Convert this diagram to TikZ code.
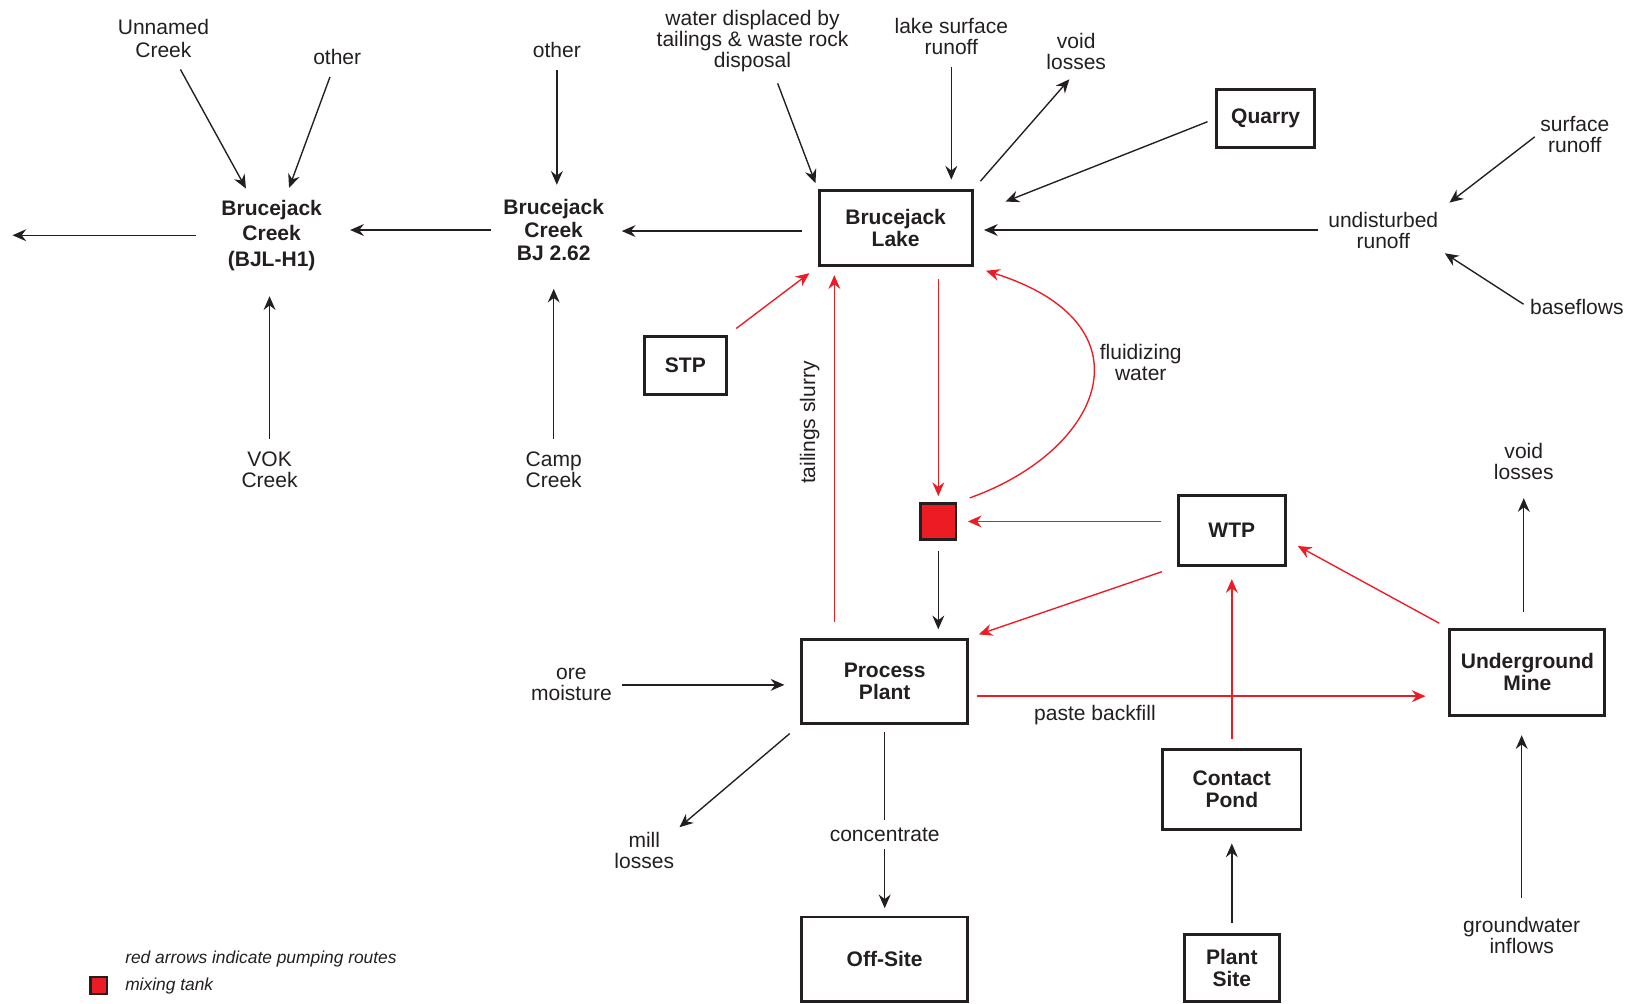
\documentclass[tikz,border=0pt]{standalone}
\usepackage{fontspec}
\setmainfont{Liberation Sans}
\usetikzlibrary{arrows.meta,positioning,calc}
\definecolor{pumpred}{HTML}{ED1C24}
\definecolor{inkgray}{HTML}{231F20}

\begin{document}
\begin{tikzpicture}[x=0.02cm,y=-0.02cm,
  font=\fontsize{11.5}{11.5}\selectfont,
  >={Stealth[length=7.5pt,width=6.5pt,inset=2.5pt]},
  lbl/.style={align=center,inner sep=1pt,text=inkgray},
  creek/.style={lbl,font=\fontsize{11.5}{12.5}\selectfont\bfseries},
  box/.style={draw=inkgray,line width=1.6pt,align=center,inner sep=0pt,text=inkgray,
    font=\fontsize{11.5}{12}\selectfont\bfseries},
  flow/.style={->,inkgray,line width=0.75pt,shorten <=0.2cm,shorten >=0.2cm},
  pump/.style={->,pumpred,line width=0.75pt,shorten <=0.2cm,shorten >=0.2cm},
  legend/.style={anchor=west,inner sep=0pt,text=inkgray,font=\fontsize{9.5}{11}\selectfont\itshape}]

\useasboundingbox (0,0) rectangle (1568,964);

% creeks
\node[creek,font=\fontsize{11.5}{14}\selectfont\bfseries] (bjlh1) at (261,226) {Brucejack\\Creek\\(BJL-H1)};
\node[creek] (bj262) at (532,221) {Brucejack\\Creek\\BJ 2.62};
\node[lbl,font=\fontsize{11.5}{13}\selectfont] (unnamed) at (157,37) {Unnamed\\Creek};
\node[lbl] (otherA) at (324,55) {other};
\node[lbl] (vok) at (259,451) {VOK\\Creek};
\node[lbl] (otherB) at (535,48) {other};
\node[lbl] (camp) at (532,451) {Camp\\Creek};
\coordinate (exit) at (12,226);

% boxes
\node[box,minimum width=2.94cm,minimum height=1.44cm] (lake) at (860.5,219) {Brucejack\\Lake};
\node[box,minimum width=1.88cm,minimum height=1.12cm] (quarry) at (1216,114) {Quarry};
\node[box,minimum width=1.58cm,minimum height=1.12cm] (stp) at (658.5,351) {STP};
\node[box,minimum width=2.06cm,minimum height=1.34cm] (wtp) at (1183.5,509.5) {WTP};
\node[box,minimum width=3.2cm,minimum height=1.62cm] (plant) at (850,654.5) {Process\\Plant};
\node[box,minimum width=2.98cm,minimum height=1.64cm] (mine) at (1467.5,646) {Underground\\Mine};
\node[box,minimum width=2.66cm,minimum height=1.54cm] (pond) at (1183.5,758.5) {Contact\\Pond};
\node[box,minimum width=3.2cm,minimum height=1.62cm] (offsite) at (850,921.5) {Off-Site};
\node[box,minimum width=1.82cm,minimum height=1.28cm] (psite) at (1183.5,930) {Plant\\Site};
\node[box,fill=pumpred,minimum size=0.68cm] (tank) at (901.5,501) {};

% other labels
\node[lbl] (waterdisp) at (723,39) {water displaced by\\tailings \& waste rock\\disposal};
\node[lbl] (lakesurf) at (914,35) {lake surface\\runoff};
\node[lbl] (voidA) at (1034,49) {void\\losses};
\node[lbl] (undist) at (1329,221) {undisturbed\\runoff};
\node[lbl] (surfrun) at (1513,129) {surface\\runoff};
\node[lbl] (baseflows) at (1515,295) {baseflows};
\node[lbl] (fluid) at (1096,348) {fluidizing\\water};
\node[lbl] (ore) at (549,658) {ore\\moisture};
\node[lbl] (mill) at (619,817) {mill\\losses};
\node[lbl] (voidB) at (1464,443) {void\\losses};
\node[lbl] (gw) at (1462,899) {groundwater\\inflows};
\node[lbl] (paste) at (1052,687) {paste backfill};
\node[lbl,rotate=90] (slurry) at (778,406) {tailings slurry};

% creek flows
\draw[flow] (unnamed) -- (bjlh1);
\draw[flow] (otherA) -- (bjlh1);
\draw[flow,shorten <=0.45cm,shorten >=0pt] (bjlh1) -- (exit);
\draw[flow,shorten >=0.5cm] (bj262.west) -- (bj262.west -| bjlh1.east);
\draw[flow,shorten >=0.45cm] (vok) -- (vok |- bjlh1.south);
\draw[flow,shorten >=0.24cm] (otherB) -- (otherB |- bj262.north);
\draw[flow,shorten >=0.5cm] (camp) -- (camp |- bj262.south);
\draw[flow,shorten <=0.3cm,shorten >=0.3cm] ([yshift=-0.06cm]lake.west) -- ([yshift=-0.06cm]lake.west -| bj262.east);

% lake flows
\draw[flow,shorten >=0.12cm] (waterdisp.-57) -- (lake.north west);
\draw[flow,shorten >=0.18cm] (lakesurf) -- (lakesurf |- lake.north);
\draw[flow] (lake.north east) -- (voidA.south);
\draw[flow,shorten <=0.16cm,shorten >=0.66cm] (quarry.west) -- (lake.10);
\draw[flow,shorten <=0.16cm] (undist.west) -- (undist.west -| lake.east);
\draw[flow,shorten <=0.08cm,shorten >=0.22cm] (surfrun.west) -- (undist.north east);
\draw[flow,shorten <=0.1cm,shorten >=0.1cm] (baseflows.west) -- (undist.south east);

% pumping routes
\draw[pump] (stp.north east) -- (lake.south west);
\draw[pump,shorten <=0.3cm,shorten >=0.16cm] ([xshift=0.66cm]plant.north west) -- ([xshift=0.66cm]plant.north west |- lake.south);
\draw[pump,shorten <=0.24cm,shorten >=0.12cm] (tank |- lake.south) -- (tank.north);
\draw[pump,shorten <=0.25cm,shorten >=0.25cm] (tank.north east) .. controls +(140,-50) and +(175,55) .. (lake.south east);
\draw[pump,shorten <=0.3cm] (wtp.west |- tank) -- (tank.east);
\draw[pump,shorten <=0.3cm,shorten >=0.19cm] (wtp.south west) -- (plant.north east);
\draw[pump,shorten >=0.24cm] (mine.north west) -- (wtp.-10);
\draw[pump,shorten <=0.18cm,shorten >=0.24cm] (pond) -- (wtp);
\draw[pump,shorten <=0.14cm,shorten >=0.44cm] (plant.-10) -- (plant.-10 -| mine.west);

% plant and mine flows
\draw[flow,shorten >=0.16cm] (tank) -- (tank |- plant.north);
\draw[flow,shorten <=0.15cm,shorten >=0.3cm] (ore.east) -- (ore.east -| plant.west);
\draw[flow,shorten <=0.26cm,shorten >=0.08cm] (plant.south west) -- (mill.north east);
\draw[flow,shorten <=0.14cm,shorten >=0.14cm] (plant) -- (offsite)
  node[lbl,fill=white,inner sep=4pt,pos=0.576] (conc) {concentrate};
\draw[flow,shorten <=0.32cm,shorten >=0.32cm] (voidB |- mine.north) -- (voidB);
\draw[flow,shorten <=0.34cm,shorten >=0.36cm] (gw) -- (gw |- mine.south);
\draw[flow,shorten >=0.24cm] (psite) -- (pond);

% legend
\node[draw=inkgray,fill=pumpred,line width=1.2pt,minimum size=0.32cm,inner sep=0pt] (keytank) at (95,947) {};
\node[legend] (keyred) at (120,921) {red arrows indicate pumping routes};
\node[legend] (keymix) at (120,947) {mixing tank};
\end{tikzpicture}
\end{document}
